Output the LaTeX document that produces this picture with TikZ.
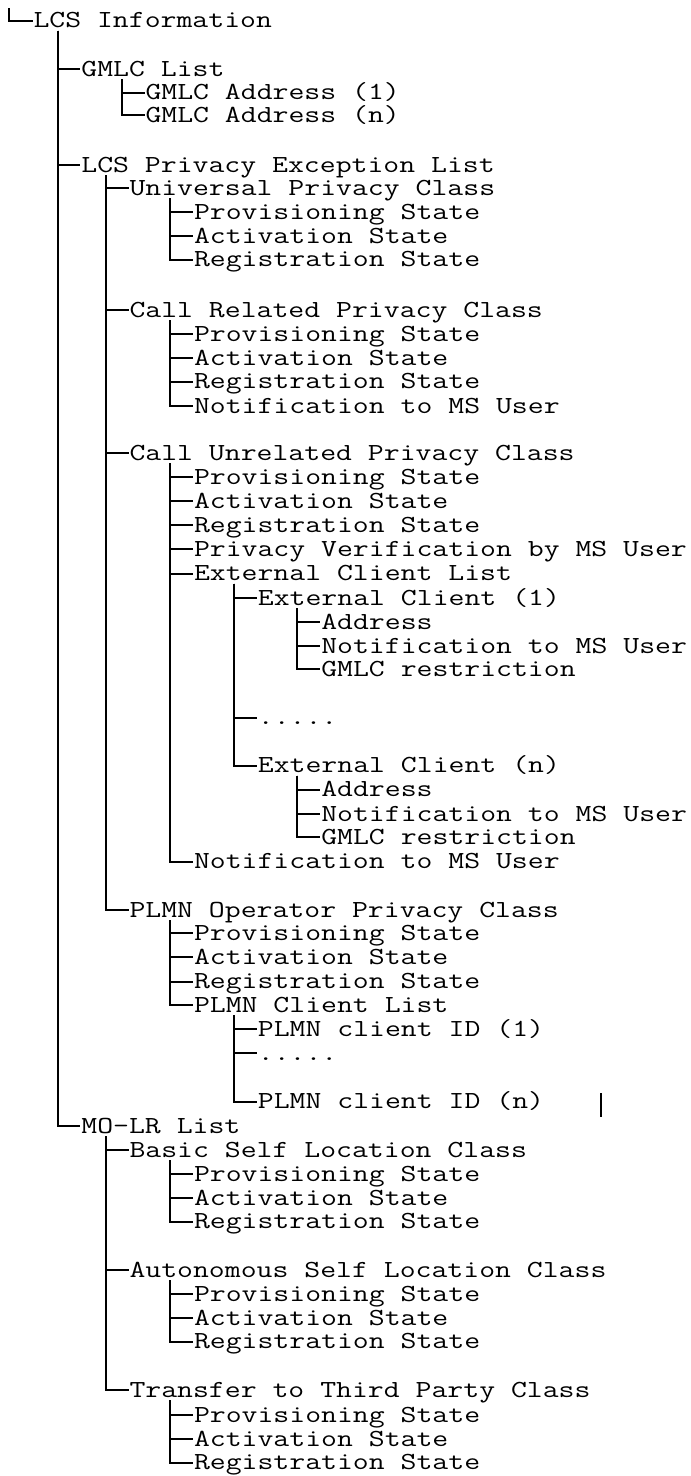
\documentclass[tikz,border=0pt]{standalone}
\usepackage{fontspec}
\newcommand\sx{1.26}
\tikzset{
  lbl/.style={anchor=base west, inner sep=0pt, outer sep=0pt, text height=14pt, text depth=0pt,
              font=\fontsize{24.5pt}{24.5pt}\selectfont\ttfamily},
  tree/.style={line width=2pt, black},
}
% #1 name, #2 x, #3 y of the horizontal stroke, #4 text
\newcommand\itm[4]{\node[lbl] (#1) at (#2,{#3+7}) {\scalebox{\sx}[1]{#4}};}
% #1 parent, #2 offset of the vertical from parent's left, #3 child
\newcommand\con[3]{\draw[tree] ([xshift=#2pt,yshift=-3pt]#1.south west) |- ([xshift=-1pt]#3.west);}
\begin{document}
\begin{tikzpicture}[x=1pt,y=-1pt]
\useasboundingbox (0,0) rectangle (691,1476);
% level 0
\itm{root}{33.5}{20.7}{LCS Information}
\coordinate (top) at (9.3,8);
\draw[tree] (top) |- ([xshift=-1pt]root.west);
% level 1
\itm{gmlc}{81.4}{69.3}{GMLC List}
\itm{lpel}{81.4}{165}{LCS Privacy Exception List}
\itm{molr}{81.4}{1126}{MO-LR List}
% GMLC
\itm{ga1}{145.5}{92.7}{GMLC Address (1)}
\itm{gan}{145.5}{115}{GMLC Address (n)}
% privacy classes
\itm{upc}{129.5}{188.3}{Universal Privacy Class}
\itm{crpc}{129.5}{310}{Call Related Privacy Class}
\itm{cupc}{129.5}{453.3}{Call Unrelated Privacy Class}
\itm{plmn}{129.5}{910}{PLMN Operator Privacy Class}
% universal
\itm{upa}{194}{212.3}{Provisioning State}
\itm{upb}{194}{236}{Activation State}
\itm{upc3}{194}{259.5}{Registration State}
% call related
\itm{cra}{194}{334}{Provisioning State}
\itm{crb}{194}{358}{Activation State}
\itm{crc}{194}{381.7}{Registration State}
\itm{crd}{194}{406}{Notification to MS User}
% call unrelated
\itm{cua}{194}{477.3}{Provisioning State}
\itm{cub}{194}{501}{Activation State}
\itm{cuc}{194}{525}{Registration State}
\itm{cud}{194}{549}{Privacy Verification by MS User}
\itm{ecl}{194}{573.5}{External Client List}
\itm{cun}{194}{861.7}{Notification to MS User}
% external clients
\itm{ec1}{257.9}{598.3}{External Client (1)}
\itm{ecd}{257.9}{717.8}{.....}
\itm{ecn}{257.9}{765.5}{External Client (n)}
\itm{e1a}{321.3}{622}{Address}
\itm{e1b}{321.3}{646}{Notification to MS User}
\itm{e1c}{321.3}{669}{GMLC restriction}
\itm{ena}{321.3}{789.5}{Address}
\itm{enb}{321.3}{814}{Notification to MS User}
\itm{enc}{321.3}{837.3}{GMLC restriction}
% PLMN operator
\itm{pla}{194}{933.3}{Provisioning State}
\itm{plb}{194}{957.3}{Activation State}
\itm{plc}{194}{981.7}{Registration State}
\itm{pcl}{194}{1005}{PLMN Client List}
\itm{pc1}{257.9}{1029.3}{PLMN client ID (1)}
\itm{pcd}{257.9}{1053.3}{.....}
\itm{pcn}{257.9}{1101.7}{PLMN client ID (n)}
% MO-LR
\itm{bslc}{129.5}{1150}{Basic Self Location Class}
\itm{aslc}{129.5}{1270}{Autonomous Self Location Class}
\itm{ttpc}{129.5}{1390}{Transfer to Third Party Class}
\itm{bsa}{194}{1174}{Provisioning State}
\itm{bsb}{194}{1198.3}{Activation State}
\itm{bsc}{194}{1221.7}{Registration State}
\itm{asa}{194}{1294}{Provisioning State}
\itm{asb}{194}{1318.3}{Activation State}
\itm{asc}{194}{1341.7}{Registration State}
\itm{tta}{194}{1415}{Provisioning State}
\itm{ttb}{194}{1439.3}{Activation State}
\itm{ttc}{194}{1462.7}{Registration State}
% connectors
\foreach \c in {gmlc,lpel,molr} {\con{root}{24}{\c}}
\foreach \c in {ga1,gan} {\con{gmlc}{40.5}{\c}}
\foreach \c in {upc,crpc,cupc,plmn} {\con{lpel}{24.6}{\c}}
\foreach \c in {upa,upb,upc3} {\con{upc}{40.5}{\c}}
\foreach \c in {cra,crb,crc,crd} {\con{crpc}{40.5}{\c}}
\foreach \c in {cua,cub,cuc,cud,ecl,cun} {\con{cupc}{40.5}{\c}}
\foreach \c in {ec1,ecd,ecn} {\con{ecl}{40}{\c}}
\foreach \c in {e1a,e1b,e1c} {\con{ec1}{39.5}{\c}}
\foreach \c in {ena,enb,enc} {\con{ecn}{39.5}{\c}}
\foreach \c in {pla,plb,plc,pcl} {\con{plmn}{40.5}{\c}}
\foreach \c in {pc1,pcd,pcn} {\con{pcl}{40}{\c}}
\foreach \c in {bslc,aslc,ttpc} {\con{molr}{24.6}{\c}}
\foreach \c in {bsa,bsb,bsc} {\con{bslc}{40.5}{\c}}
\foreach \c in {asa,asb,asc} {\con{aslc}{40.5}{\c}}
\foreach \c in {tta,ttb,ttc} {\con{ttpc}{40.5}{\c}}
% stray bar at the right of PLMN client ID (n)
\coordinate (bara) at (601,1093);
\coordinate (barb) at (601,1117);
\draw[line width=1.5pt] (bara) -- (barb);
\end{tikzpicture}
\end{document}
